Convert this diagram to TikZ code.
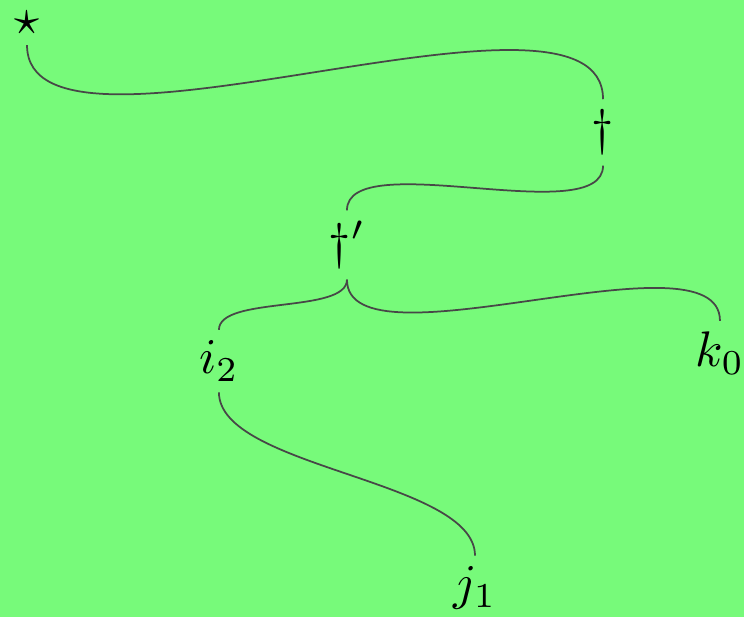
\documentclass[tikz,border=0pt]{standalone}
\usepackage{amsmath,amsfonts,amssymb}
\definecolor{bggreen}{RGB}{119,250,122}
\begin{document}
\begin{tikzpicture}[
        every node/.style={font=\normalsize},
        lbl/.style={
            inner sep=2pt
        },
        link/.style={
            draw=black!72,
            line width=0.35pt,
            out=-90,
            in=90,
            looseness=0.64
        }
    ]
    % Background
    \fill[bggreen] (0,0) rectangle (5.230,-4.337);
    \useasboundingbox (0,0) rectangle (5.230,-4.337);

    % Tree
    \node[lbl] (star) at (0.190,-0.158) {$\star$};
    \node[lbl] (dag) at (4.239,-0.931) {$\dagger$};
    \node[lbl] (dagp) at (2.439,-1.722) {$\dagger'$};
    \node[lbl] (i2) at (1.539,-2.538) {$i_2$};
    \node[lbl] (k0) at (5.061,-2.481) {$k_0$};
    \node[lbl] (j1) at (3.339,-4.133) {$j_1$};

    \draw[link] (star.south) to (dag.north);
    \draw[link] (dag.south) to (dagp.north);
    \draw[link] (dagp.south) to (i2.north);
    \draw[link] (dagp.south) to (k0.north);
    \draw[link] (i2.south) to (j1.north);

\end{tikzpicture}
\end{document}
